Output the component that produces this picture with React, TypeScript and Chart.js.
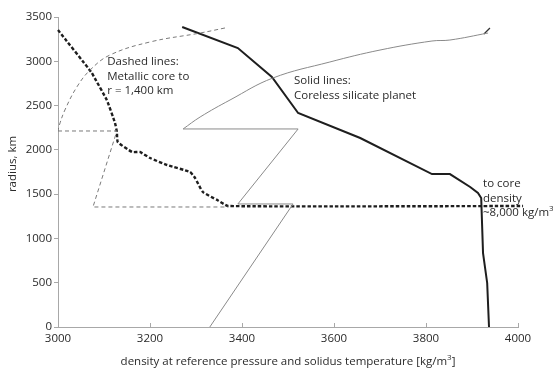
import React, { useEffect, useRef } from "react";
import { Chart, registerables } from "chart.js";
Chart.register(...registerables);

// Thick dashed: metallic-core model density profile (kg/m3 vs km)
const coreDensityX = [3000, 3072, 3082, 3106, 3124, 3128, 3130, 3161, 3178, 3200, 3237, 3287, 3298, 3315, 3346, 3370, 4011];
const coreDensityY = [3353, 2880, 2790, 2563, 2303, 2202, 2089, 1976, 1976, 1908, 1829, 1750, 1682, 1524, 1434, 1366, 1366];

// Thin dashed: metallic-core model, smooth upper curve
const coreCurveX = [3363, 3309, 3200, 3113, 3070, 3041, 3015, 3003, 3000];
const coreCurveY = [3376, 3319, 3218, 3071, 2902, 2710, 2450, 2280, 2213];
// Thin dashed: metallic-core model, straight construction
const coreStepX = [3000, 3128, 3076, 3370];
const coreStepY = [2213, 2213, 1355, 1355];

// Thick solid: coreless silicate planet density profile
const corelessDensityX = [3270, 3391, 3465, 3522, 3657, 3813, 3852, 3896, 3913, 3920, 3924, 3933, 3937];
const corelessDensityY = [3387, 3150, 2823, 2416, 2134, 1727, 1727, 1581, 1513, 1456, 835, 497, 0];

// Thin solid: coreless silicate planet, smooth upper curve
const corelessCurveX = [3935, 3852, 3813, 3700, 3591, 3467, 3374, 3309, 3272];
const corelessCurveY = [3319, 3240, 3229, 3127, 2992, 2811, 2563, 2371, 2236];
// Thin solid: coreless silicate planet, straight construction
const corelessStepX = [3272, 3522, 3391, 3511, 3330];
const corelessStepY = [2236, 2236, 1389, 1389, 0];

// small kink mark at the top right end of thin solid curve
const kinkX = [3926, 3939];
const kinkY = [3308, 3376];

const xTicks = [3000, 3200, 3400, 3600, 3800, 4000];
const yTicks = [0, 500, 1000, 1500, 2000, 2500, 3000, 3500];

const xTitle = "density at reference pressure and solidus temperature [kg/m";
const yTitle = "radius, km";

const FONT = "'Open Sans', sans-serif";
const TEXT = "#2a2a2a";
const AXIS = "#a8a8a8";

const zip = (xs: number[], ys: number[]) => xs.map((x, i) => ({ x, y: ys[i] }));

export default function App() {
  const ref = useRef<HTMLCanvasElement>(null);
  useEffect(() => {
    document.body.style.margin = "0";
    const canvas = ref.current!;

    const annot = {
      id: "annot",
      afterDraw(chart: any) {
        const c = chart.ctx;
        const xs = chart.scales.x;
        const ys = chart.scales.y;
        c.save();
        // inward x ticks
        c.strokeStyle = AXIS;
        c.lineWidth = 1;
        xTicks.forEach((v) => {
          const px = Math.round(xs.getPixelForValue(v)) + 0.5;
          c.beginPath();
          c.moveTo(px, ys.bottom);
          c.lineTo(px, ys.bottom - 4);
          c.stroke();
        });
        c.fillStyle = TEXT;
        c.font = `11.5px ${FONT}`;
        c.textBaseline = "middle";
        c.textAlign = "left";
        const put = (t: string, x: number, y: number) =>
          c.fillText(t, xs.getPixelForValue(x), ys.getPixelForValue(y));
        put("Dashed lines:", 3107, 2992);
        put("Metallic core to", 3107, 2823);
        put("r = 1,400 km", 3107, 2665);
        put("Solid lines:", 3513, 2778);
        put("Coreless silicate planet", 3513, 2608);
        put("to core", 3924, 1615);
        put("density", 3924, 1445);
        const t3 = "~8,000 kg/m";
        put(t3, 3924, 1287);
        const w3 = c.measureText(t3).width;
        c.font = `8px ${FONT}`;
        c.fillText("3", xs.getPixelForValue(3924) + w3, ys.getPixelForValue(1287) - 4);

        // axis titles
        c.font = `11.5px ${FONT}`;
        c.textAlign = "left";
        const wx = c.measureText(xTitle).width;
        c.font = `8px ${FONT}`;
        const ws = c.measureText("3").width;
        c.font = `11.5px ${FONT}`;
        const wb = c.measureText("]").width;
        const total = wx + ws + wb;
        const cx = 288;
        const sx = cx - total / 2;
        const ty = 362;
        c.fillText(xTitle, sx, ty);
        c.font = `8px ${FONT}`;
        c.fillText("3", sx + wx, ty - 4);
        c.font = `11.5px ${FONT}`;
        c.fillText("]", sx + wx + ws, ty);

        c.translate(13, 164);
        c.rotate(-Math.PI / 2);
        c.textAlign = "center";
        c.fillText(yTitle, 0, 0);
        c.restore();
      },
    };

    const thinDashed = { showLine: true, borderColor: "#7a7a7a", borderWidth: 1, borderDash: [4, 3], pointRadius: 0 };
    const thinSolid = { showLine: true, borderColor: "#8a8a8a", borderWidth: 1, pointRadius: 0 };

    const chart = new Chart(canvas, {
      type: "scatter",
      data: {
        datasets: [
          { ...thinDashed, data: zip(coreCurveX, coreCurveY), tension: 0.4 },
          { ...thinDashed, data: zip(coreStepX, coreStepY), tension: 0 },
          { ...thinSolid, data: zip(corelessCurveX, corelessCurveY), tension: 0.4 },
          { ...thinSolid, data: zip(corelessStepX, corelessStepY), tension: 0 },
          {
            data: zip(kinkX, kinkY),
            showLine: true,
            borderColor: "#333",
            borderWidth: 1.2,
            pointRadius: 0,
            clip: false,
          },
          {
            data: zip(corelessDensityX, corelessDensityY),
            showLine: true,
            borderColor: "#1e1e1e",
            borderWidth: 2,
            pointRadius: 0,
            tension: 0,
            clip: false,
          },
          {
            data: zip(coreDensityX, coreDensityY),
            showLine: true,
            borderColor: "#1e1e1e",
            borderWidth: 2.4,
            borderDash: [3.5, 2],
            pointRadius: (ctx: any) => (ctx.dataIndex === coreDensityX.length - 1 ? 3 : 0),
            pointStyle: "triangle",
            rotation: 90,
            pointBackgroundColor: "#1e1e1e",
            pointBorderWidth: 0,
            tension: 0.15,
            clip: false,
          } as any,
        ],
      },
      options: {
        responsive: false,
        animation: false,
        layout: { padding: { top: 17, right: 35, left: 0, bottom: 0 } },
        plugins: { legend: { display: false }, tooltip: { enabled: false } },
        scales: {
          x: {
            type: "linear",
            min: 3000,
            max: 4000,
            afterFit: (s: any) => {
              s.height = 42;
            },
            afterBuildTicks: (s: any) => {
              s.ticks = xTicks.map((v) => ({ value: v }));
            },
            ticks: {
              font: { family: FONT, size: 11.5 },
              color: TEXT,
              padding: 5,
              maxRotation: 0,
              callback: (v: any) => String(v),
            },
            grid: { display: false, drawTicks: false },
            border: { color: AXIS, width: 1 },
          },
          y: {
            type: "linear",
            min: 0,
            max: 3500,
            afterFit: (s: any) => {
              s.width = 58;
            },
            afterBuildTicks: (s: any) => {
              s.ticks = yTicks.map((v) => ({ value: v }));
            },
            ticks: { font: { family: FONT, size: 11.5 }, color: TEXT, padding: 2, callback: (v: any) => String(v) },
            grid: { display: true, drawOnChartArea: false, drawTicks: true, tickLength: 4, color: AXIS },
            border: { color: AXIS, width: 1 },
          },
        },
      },
      plugins: [annot],
    } as any);
    return () => chart.destroy();
  }, []);
  return <canvas ref={ref} width={553} height={369} style={{ display: "block" }} />;
}
